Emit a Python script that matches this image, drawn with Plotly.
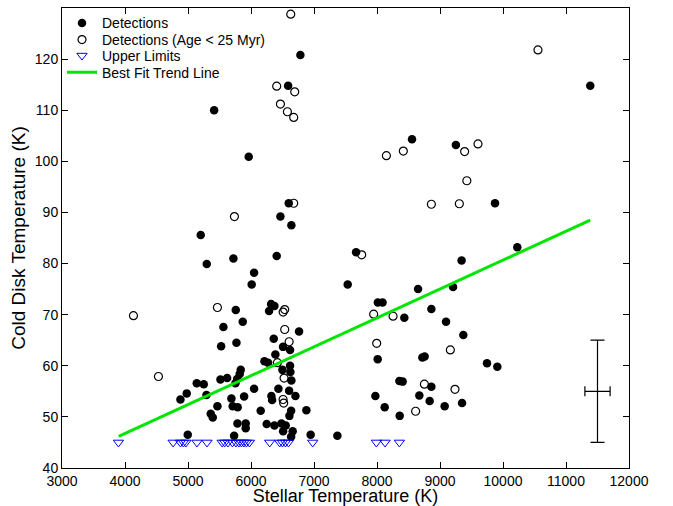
import plotly.graph_objects as go

# Cold-disk detections: stellar temperature (K) and disk temperature (K)
det_T = [6784, 6589, 5415, 5964, 11385, 8556, 9252, 6599, 6467, 6641, 5202, 5298,
         5721, 6408, 6049, 6011, 7535, 9873, 7668, 10227, 9343, 8652, 9207,
         8014, 8088, 8434, 8863, 9096, 9370, 8011, 8720, 8756, 9746, 9910, 8355,
         8407, 8863, 7974, 8672, 8836, 9350, 8122, 9074, 8360, 7371,
         5758, 6319, 6372, 6287, 5562, 5869, 6763, 5526, 5769, 6361, 6509, 6620,
         6387, 6213, 6271, 6620, 6625, 6641, 6499, 5837, 5821, 5780, 5753, 5515,
         5621, 5139, 5250, 6049, 5293, 4980, 4880, 6435, 6605, 6705, 6324, 6335,
         5689, 5891, 5710, 5789, 5467, 5361, 5393, 6154, 6879, 6637, 6610, 5785,
         5916, 5916, 6249, 6372, 6483, 6551, 6510, 6662, 6637, 4996, 5732, 6947]
det_K = [120.8, 114.8, 110.0, 100.9, 114.8, 104.3, 103.2, 91.8, 89.2, 87.5, 85.6, 79.9,
         81.0, 81.5, 78.2, 75.9, 75.9, 91.8, 82.2, 83.2, 80.6, 75.0, 75.4,
         72.4, 72.4, 69.4, 71.1, 68.6, 66.0, 61.3, 61.6, 61.8, 60.5, 59.8, 57.0,
         56.9, 55.9, 54.1, 54.2, 53.1, 52.7, 51.9, 52.1, 50.2, 46.3,
         70.9, 72.1, 71.7, 70.7, 67.6, 68.6, 66.7, 63.8, 64.5, 65.3, 63.7, 63.1,
         62.2, 60.9, 60.6, 60.0, 58.8, 57.1, 59.2, 59.2, 58.4, 57.4, 56.6, 57.3,
         57.6, 56.6, 56.4, 55.5, 54.3, 54.6, 53.4, 55.5, 55.1, 54.1, 54.1, 53.3,
         53.6, 54.0, 52.1, 51.9, 52.1, 50.6, 49.9, 51.2, 51.3, 51.2, 50.2, 48.7,
         48.7, 47.8, 48.6, 48.3, 48.7, 48.3, 47.2, 47.2, 46.1, 46.5, 46.3, 46.5]

# Detections around stars younger than 25 Myr
young_T = [6631, 6408, 6694, 6467, 6578, 6678, 10555, 8149, 8418, 9391, 9603, 6678,
           5737, 9426, 8863, 9307, 7757, 7947, 8255, 7995, 9164, 8752, 9238, 8613,
           4134, 4531, 5467, 6535, 6510, 6535, 6605, 6419, 6525, 6509, 6519]
young_K = [128.8, 114.7, 113.6, 111.2, 109.7, 108.6, 121.8, 101.1, 102.0, 101.9, 103.4, 91.8,
           89.2, 96.2, 91.6, 91.7, 81.7, 70.1, 69.7, 64.4, 63.1, 56.4, 55.4, 51.1,
           69.8, 57.9, 71.4, 71.0, 70.5, 67.1, 64.7, 60.6, 57.6, 53.4, 52.7]

# Non-detections plotted as upper limits
ul_T = [3896, 4764, 4880, 4928, 4967, 5142, 5301, 5542, 5583, 5634, 5705, 5761, 5808,
        5848, 5888, 5927, 5975, 6297, 6456, 6498, 6546, 6594, 6979, 7990, 8128, 8355]
ul_K = [45, 45, 45, 45, 45, 45, 45, 45, 45, 45, 45, 45, 45,
        45, 45, 45, 45, 45, 45, 45, 45, 45, 45, 45, 45, 45]

# Best-fit trend line end points
trend_T = [3900, 11385]
trend_K = [46.2, 88.5]

# Typical uncertainty marker
errbar_T = [11500]
errbar_K = [55]
err_T = [200]
err_K = [10]

FONT = "Liberation Sans, Arial, Helvetica, sans-serif"

fig = go.Figure()

fig.add_trace(go.Scatter(
    x=det_T, y=det_K, mode="markers", name="Detections", legend="legend",
    marker=dict(symbol="circle", size=8.5, color="black", line=dict(width=0)),
))
fig.add_trace(go.Scatter(
    x=young_T, y=young_K, mode="markers", name="Detections (Age < 25 Myr)", legend="legend2",
    marker=dict(symbol="circle-open", size=8, color="black", line=dict(width=1.2, color="black")),
))
fig.add_trace(go.Scatter(
    x=ul_T, y=ul_K, mode="markers", name="Upper Limits", legend="legend3",
    marker=dict(symbol="triangle-down-open", size=9, color="#0000ff", line=dict(width=1, color="#0000ff")),
))
fig.add_trace(go.Scatter(
    x=trend_T, y=trend_K, mode="lines", name="Best Fit Trend Line", legend="legend4",
    line=dict(color="#00e600", width=3),
))
fig.add_trace(go.Scatter(
    x=errbar_T, y=errbar_K, mode="markers", showlegend=False,
    marker=dict(size=1, color="black", opacity=0),
    error_x=dict(type="data", array=err_T, color="black", thickness=1.2, width=5),
    error_y=dict(type="data", array=err_K, color="black", thickness=1.2, width=7),
))

axis_common = dict(
    showgrid=False, zeroline=False, showline=True, linecolor="black", linewidth=1,
    mirror="ticks", ticks="inside", ticklen=6, tickwidth=1, tickcolor="black",
    tickfont=dict(family=FONT, size=14, color="black"), automargin=False,
)

fig.update_xaxes(
    range=[3000, 12000], tick0=3000, dtick=1000, tickformat="d",
    title=dict(text="Stellar Temperature (K)", font=dict(family=FONT, size=18, color="black"), standoff=4),
    **axis_common,
)
fig.update_yaxes(
    range=[40, 130], tick0=40, dtick=10, tickformat="d",
    title=dict(text="Cold Disk Temperature (K)", font=dict(family=FONT, size=19, color="black"), standoff=4),
    **axis_common,
)

# One single-entry legend per row so the rows sit tightly stacked
legend_style = dict(
    x=0.0, xanchor="left", yanchor="middle",
    bgcolor="rgba(0,0,0,0)", borderwidth=0,
    font=dict(family=FONT, size=14, color="black"),
)
row_y = [0.9667, 0.9304, 0.8957, 0.8593]

fig.update_layout(
    width=673, height=506,
    margin=dict(l=62, r=44, t=8, b=38, autoexpand=False),
    paper_bgcolor="white", plot_bgcolor="white",
    font=dict(family=FONT, color="black"),
    legend=dict(y=row_y[0], **legend_style),
    legend2=dict(y=row_y[1], **legend_style),
    legend3=dict(y=row_y[2], **legend_style),
    legend4=dict(y=row_y[3], **legend_style),
)

fig.write_html("out.html")
